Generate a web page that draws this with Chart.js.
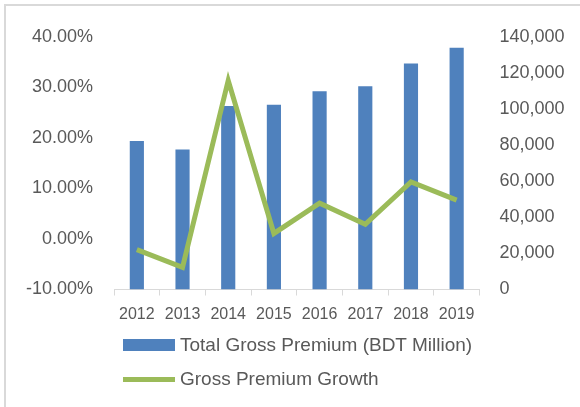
<!DOCTYPE html>
<html>
<head>
<meta charset="utf-8">
<script src="https://cdn.jsdelivr.net/npm/chart.js@4"></script>
<style>
  html, body { margin: 0; padding: 0; background: #fff; }
  #wrap { position: relative; width: 580px; height: 407px; overflow: hidden; }
  #frame { position: absolute; left: 4px; top: 4px; width: 600px; height: 500px;
           border-left: 2px solid #d9d9d9; border-top: 2px solid #d9d9d9; box-sizing: border-box; }
  canvas { position: absolute; left: 0; top: 0; }
  .lg { position: absolute; left: 123px; font: 19px "Liberation Sans", sans-serif; color: #595959;
        display: flex; align-items: center; white-space: nowrap; }
  .lg span.mark { display: inline-block; width: 52px; margin-right: 5px; }
</style>
</head>
<body>
<div id="wrap">
  <div id="frame"></div>
  <canvas id="chart" width="580" height="407"></canvas>
  <div id="legend"></div>
</div>
<script>
// values
const years = ['2012', '2013', '2014', '2015', '2016', '2017', '2018', '2019'];
const grossPremium = [82300, 77600, 101800, 102500, 109900, 112700, 125300, 134100];
const premiumGrowth = [-0.021, -0.056, 0.314, 0.011, 0.071, 0.029, 0.113, 0.077];

const labelColor = '#595959';
const barColor = '#4f81bd';
const lineColor = '#9bbb59';

const chart = new Chart(document.getElementById('chart'), {
    type: 'bar',
    data: {
        labels: years,
        datasets: [
            {
                type: 'bar',
                label: 'Total Gross Premium (BDT Million)',
                data: grossPremium,
                yAxisID: 'y1',
                backgroundColor: barColor,
                categoryPercentage: 1,
                barPercentage: 0.31,
                order: 2,
            },
            {
                type: 'line',
                label: 'Gross Premium Growth',
                data: premiumGrowth,
                yAxisID: 'y',
                borderColor: lineColor,
                backgroundColor: lineColor,
                borderWidth: 5,
                pointRadius: 0,
                tension: 0,
                order: 1,
            },
        ],
    },
    options: {
        responsive: false,
        animation: false,
        layout: { padding: { top: 37, left: 0, right: 0, bottom: 0 } },
        plugins: {
            legend: { display: false },
            tooltip: { enabled: false },
        },
        scales: {
            x: {
                offset: true,
                grid: {
                    offset: true,
                    drawOnChartArea: false,
                    drawTicks: true,
                    tickLength: 6,
                    color: '#d9d9d9',
                },
                border: { color: '#d9d9d9', width: 1 },
                ticks: { color: labelColor, font: { family: 'Liberation Sans', size: 16 }, padding: 9, maxRotation: 0 },
                afterFit: (axis) => { axis.height = 117.5; },
            },
            y: {
                position: 'left',
                min: -0.1,
                max: 0.4,
                grid: { display: false, drawTicks: false },
                border: { display: false },
                ticks: {
                    stepSize: 0.1,
                    padding: 21,
                    color: labelColor,
                    font: { family: 'Liberation Sans', size: 18 },
                    callback: (v) => (v * 100).toFixed(2) + '%',
                },
                afterFit: (axis) => { axis.width = 114; },
            },
            y1: {
                position: 'right',
                min: 0,
                max: 140000,
                grid: { display: false, drawTicks: false },
                border: { display: false },
                ticks: {
                    stepSize: 20000,
                    padding: 20,
                    color: labelColor,
                    font: { family: 'Liberation Sans', size: 18 },
                    callback: (v) => v.toLocaleString('en-US'),
                },
                afterFit: (axis) => { axis.width = 100.5; },
            },
        },
    },
});

// legend stacked on the left, as in the reference
const legendEl = document.getElementById('legend');
const legendTops = [334, 368];
chart.data.datasets.forEach((ds, i) => {
    const row = document.createElement('div');
    row.className = 'lg';
    row.style.top = legendTops[i] + 'px';
    const mark = document.createElement('span');
    mark.className = 'mark';
    mark.style.background = ds.backgroundColor;
    mark.style.height = ds.type === 'line' ? '5px' : '12px';
    row.appendChild(mark);
    row.appendChild(document.createTextNode(ds.label));
    legendEl.appendChild(row);
});
</script>
</body>
</html>
